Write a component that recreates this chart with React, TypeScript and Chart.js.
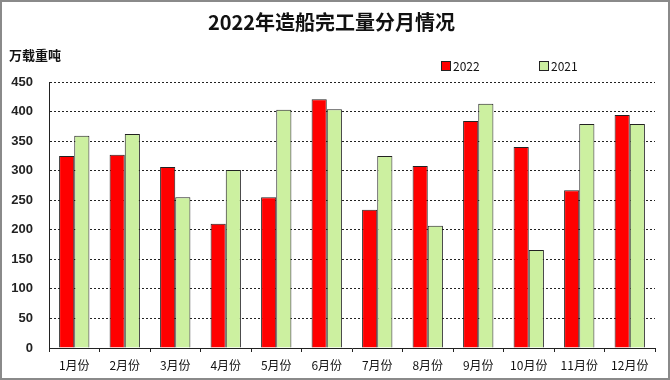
import React, { useEffect, useRef } from "react";
import { Chart, registerables } from "chart.js";

Chart.register(...registerables);

const titleText = "2022年造船完工量分月情况";
const unitText = "万载重吨";
const months = ["1月份", "2月份", "3月份", "4月份", "5月份", "6月份", "7月份", "8月份", "9月份", "10月份", "11月份", "12月份"];
const series2022 = [325, 327, 306, 210, 255, 421, 234, 308, 384, 340, 267, 394];
const series2021 = [359, 362, 255, 301, 403, 404, 325, 207, 413, 166, 379, 379];
const label2022 = "2022";
const label2021 = "2021";

const CJK = "'Noto Sans CJK SC', 'Liberation Sans', sans-serif";

const framePlugin = {
  id: "frame",
  beforeDraw(chart: any) {
    const { ctx, width, height } = chart;
    ctx.save();
    ctx.fillStyle = "#ffffff";
    ctx.fillRect(0, 0, width, height);
    ctx.restore();
  },
  afterDraw(chart: any) {
    const { ctx, width, height } = chart;
    ctx.save();
    ctx.strokeStyle = "#8a8a8a";
    ctx.lineWidth = 2;
    ctx.strokeRect(1, 1, width - 2, height - 2);
    // unit label
    ctx.fillStyle = "#111";
    ctx.font = "bold 13px " + CJK;
    ctx.textBaseline = "middle";
    ctx.textAlign = "left";
    ctx.fillText(unitText, 9, 55);
    // legend
    const items = chart.data.datasets.map((d: any) => ({ label: d.label, color: d.backgroundColor }));
    const xs = [441, 539];
    ctx.font = "12px " + CJK;
    items.forEach((it: any, i: number) => {
      const x = xs[i];
      ctx.fillStyle = it.color;
      ctx.fillRect(x, 61, 10, 10);
      ctx.strokeStyle = "#222";
      ctx.lineWidth = 1;
      ctx.strokeRect(x + 0.5, 61.5, 9, 9);
      ctx.fillStyle = "#111";
      ctx.fillText(it.label, x + 12, 66.5);
    });
    ctx.restore();
  },
};

export default function App() {
  const ref = useRef<HTMLCanvasElement>(null);
  useEffect(() => {
    if (!ref.current) return;
    const chart = new Chart(ref.current, {
      type: "bar",
      data: {
        labels: months,
        datasets: [
          { label: label2022, data: series2022, backgroundColor: "#ff0000", borderColor: "#222", borderWidth: 1 },
          { label: label2021, data: series2021, backgroundColor: "#ccf0a0", borderColor: "#222", borderWidth: 1 },
        ],
      },
      options: {
        responsive: false,
        animation: false,
        layout: { padding: { left: 8, right: 15, top: 0, bottom: 4 } },
        datasets: { bar: { barPercentage: 1, categoryPercentage: 0.6 } },
        plugins: {
          legend: { display: false },
          tooltip: { enabled: false },
          title: {
            display: true,
            text: titleText,
            color: "#111",
            font: { family: CJK, size: 20, weight: "bold" },
            padding: { top: 10, bottom: 48 },
          },
        },
        scales: {
          x: {
            grid: { display: true, drawOnChartArea: false, drawTicks: true, tickLength: 4, color: "#222", offset: true },
            border: { display: true, color: "#222", width: 1 },
            ticks: { color: "#111", font: { family: CJK, size: 12 }, padding: 6, maxRotation: 0, autoSkip: false },
            afterFit: (s: any) => { s.height = 28; },
          },
          y: {
            min: 0,
            max: 450,
            ticks: { stepSize: 50, color: "#222", font: { family: "'Liberation Sans', Arial, sans-serif", size: 13, weight: "bold" }, padding: 16 },
            grid: { color: "#222", drawTicks: false, lineWidth: 1 },
            border: { display: true, color: "#222", width: 1, dash: [2, 2] },
            afterFit: (s: any) => { s.width = 41; },
          },
        },
      },
      plugins: [framePlugin],
    });
    return () => chart.destroy();
  }, []);
  return (
    <div style={{ position: "absolute", left: 0, top: 0, width: 670, height: 380 }}>
      <canvas ref={ref} width={670} height={380} style={{ width: 670, height: 380 }} />
    </div>
  );
}
